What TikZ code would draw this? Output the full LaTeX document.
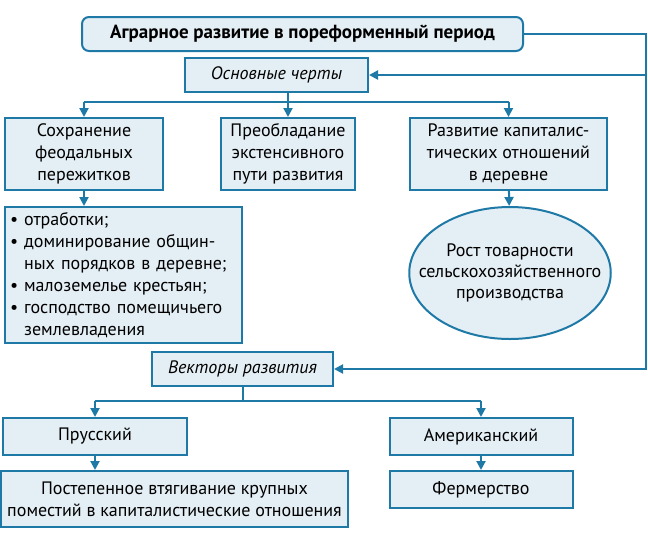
\documentclass[tikz,border=0pt]{standalone}
\usepackage{fontspec}
\setmainfont{PT Sans}
\usepackage{tikz}
\usetikzlibrary{shapes.geometric, arrows.meta}
\definecolor{frame}{HTML}{1F79A7}
\definecolor{boxfill}{HTML}{E4EEF5}
\tikzstyle{box} = [rectangle, draw=frame, fill=boxfill, line width=2pt, inner sep=0pt, text centered, align=center, font=\fontsize{18}{22}\selectfont]
\tikzstyle{oval} = [ellipse, draw=frame, fill=boxfill, line width=2pt, inner xsep=-20pt, inner ysep=0pt, align=center, font=\fontsize{18}{21}\selectfont]
\tikzstyle{line} = [draw=frame, line width=2pt]
\tikzstyle{arrow} = [line, -{Triangle[length=9pt,width=9pt]}]

\begin{document}
\begin{tikzpicture}[x=1pt, y=-1pt]
\useasboundingbox (0,0) rectangle (648,542);
\node (title) [box, rounded corners=7pt, minimum width=441pt, minimum height=34pt, font=\fontsize{19}{22}\selectfont\bfseries] at (302.5,34) {Аграрное развитие в пореформенный период};
\node (main) [box, minimum width=183pt, minimum height=34pt, font=\fontsize{18}{22}\selectfont\itshape] at (276.5,75) {Основные черты};
\node (feod) [box, minimum width=158pt, minimum height=72pt] at (84,154) {Сохранение\\феодальных\\пережитков};
\node (ext) [box, minimum width=134pt, minimum height=72pt] at (288,154) {Преобладание\\экстенсивного\\пути развития};
\node (cap) [box, minimum width=197pt, minimum height=72pt] at (508.5,154) {Развитие капиталис-\\тических отношений\\в деревне};
\node (list) [box, minimum width=237pt, minimum height=136pt, align=left, text width=227pt] at (123.5,275) {\textbullet\ отработки;\\\textbullet\ доминирование общин-\\\hphantom{\textbullet\ }ных порядков в деревне;\\\textbullet\ малоземелье крестьян;\\\textbullet\ господство помещичьего\\\hphantom{\textbullet\ }землевладения};
\node (goods) [oval, minimum width=190pt, minimum height=132pt] at (510,273) {Рост товарности\\сельскохозяйственного\\производства};
\node (vect) [box, minimum width=181pt, minimum height=34pt, font=\fontsize{18}{22}\selectfont\itshape] at (242.5,369) {Векторы развития};
\node (prus) [box, minimum width=184pt, minimum height=37pt] at (95,436.5) {Прусский};
\node (amer) [box, minimum width=183pt, minimum height=37pt] at (481,436.5) {Американский};
\node (slow) [box, minimum width=347pt, minimum height=56pt] at (174.5,499) {Постепенное втягивание крупных\\поместий в капиталистические отношения};
\node (farm) [box, minimum width=183pt, minimum height=37pt] at (481,489.5) {Фермерство};

% branch points and the right rail
\coordinate (fork1) at (0,102);
\coordinate (fork2) at (0,401);
\coordinate (rail) at (646,0);

\draw [line] (feod.north |- fork1) -- (cap.north |- fork1);
\draw [arrow] (main.south -| ext.north) -- (ext.north);
\draw [arrow] (feod.north |- fork1) -- (feod.north);
\draw [arrow] (cap.north |- fork1) -- (cap.north);
\draw [arrow] (feod.south) -- (feod.south |- list.north);
\draw [arrow] (cap) -- (goods);

\draw [arrow] (title.east) -| (rail |- vect.east) -- (vect.east);
\draw [arrow] (rail |- main.east) -- (main.east);

\draw [line] (prus.north |- fork2) -- (amer.north |- fork2);
\draw [line] (vect.south) -- (vect.south |- fork2);
\draw [arrow] (prus.north |- fork2) -- (prus.north);
\draw [arrow] (amer.north |- fork2) -- (amer.north);
\draw [arrow] (prus.south) -- (prus.south |- slow.north);
\draw [arrow] (amer) -- (farm);
\end{tikzpicture}
\end{document}
